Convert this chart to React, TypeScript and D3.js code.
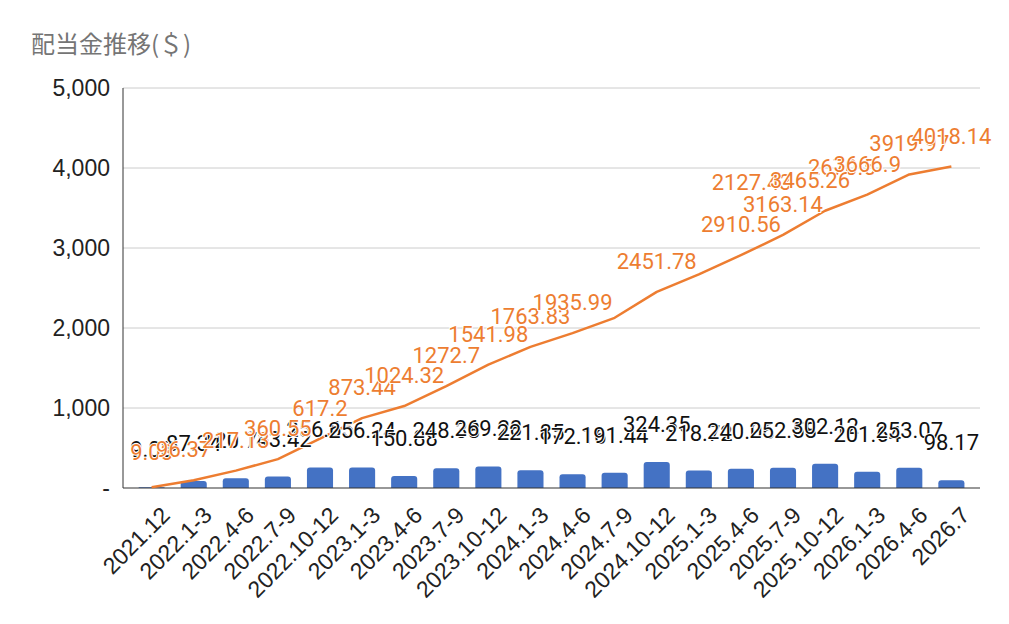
import { useEffect, useRef } from 'react';
import * as d3 from 'd3';

// quarterly dividends and running total (USD)
const categories = [
    '2021.12', '2022.1-3', '2022.4-6', '2022.7-9', '2022.10-12',
    '2023.1-3', '2023.4-6', '2023.7-9', '2023.10-12',
    '2024.1-3', '2024.4-6', '2024.7-9', '2024.10-12',
    '2025.1-3', '2025.4-6', '2025.7-9', '2025.10-12',
    '2026.1-3', '2026.4-6', '2026.7',
];
const dividends = [
    9.03, 87.34, 120.76, 143.42, 256.65,
    256.24, 150.88, 248.38, 269.28,
    221.85, 172.16, 191.44, 324.35,
    218.72, 240.06, 252.58, 302.12,
    201.64, 253.07, 98.17,
];
const cumulative = [
    9.03, 96.37, 217.13, 360.55, 617.2,
    873.44, 1024.32, 1272.7, 1541.98,
    1763.83, 1935.99, 2127.43, 2451.78,
    2670.5, 2910.56, 3163.14, 3465.26,
    3666.9, 3919.97, 4018.14,
];
const yTicks = [0, 1000, 2000, 3000, 4000, 5000];

const BAR = '#4472c4';
const LINE = '#ed7d31';

export default function App() {
    const svgRef = useRef<SVGSVGElement>(null);

    useEffect(() => {
        if (!svgRef.current) return;
        const svg = d3.select(svgRef.current);
        svg.selectAll('*').remove();

        const width = 1009;
        const height = 624;
        const margin = { top: 88, right: 29, bottom: 136, left: 123 };

        const x = d3.scaleBand<string>()
            .domain(categories)
            .range([margin.left, width - margin.right])
            .paddingInner(0.38)
            .paddingOuter(0.37);
        const y = d3.scaleLinear()
            .domain([0, 5000])
            .range([height - margin.bottom, margin.top]);
        const cx = (i: number) => (x(categories[i]) || 0) + x.bandwidth() / 2;

        svg.append('rect').attr('width', width).attr('height', height).attr('fill', '#fff');

        // title
        svg.append('text')
            .attr('x', 31)
            .attr('y', 53)
            .attr('fill', '#757575')
            .attr('font-family', '"Noto Sans CJK JP", "Noto Sans", sans-serif')
            .attr('font-size', '24px')
            .text('配当金推移(＄)');

        // grid
        svg.append('g')
            .selectAll('line')
            .data(yTicks.filter(t => t > 0))
            .enter()
            .append('line')
            .attr('x1', margin.left)
            .attr('x2', width - margin.right)
            .attr('y1', d => y(d))
            .attr('y2', d => y(d))
            .attr('stroke', '#cccccc')
            .attr('stroke-width', 1);

        // y labels
        svg.append('g')
            .selectAll('text')
            .data(yTicks)
            .enter()
            .append('text')
            .attr('x', 110)
            .attr('y', d => y(d))
            .attr('text-anchor', 'end')
            .attr('dominant-baseline', 'central')
            .attr('font-family', 'Arial, "Liberation Sans", sans-serif')
            .attr('font-size', '23px')
            .attr('fill', '#222')
            .text(d => (d === 0 ? '-' : d3.format(',')(d)));

        // bars
        svg.append('g')
            .selectAll('path')
            .data(dividends)
            .enter()
            .append('path')
            .attr('fill', BAR)
            .attr('d', (d, i) => {
                const x0 = x(categories[i]) || 0;
                const w = x.bandwidth();
                const y0 = y(0);
                const y1 = y(d);
                const r = Math.min(3, (y0 - y1) / 2);
                return `M${x0},${y0}V${y1 + r}Q${x0},${y1} ${x0 + r},${y1}H${x0 + w - r}Q${x0 + w},${y1} ${x0 + w},${y1 + r}V${y0}Z`;
            });

        // axes lines
        svg.append('line')
            .attr('x1', margin.left).attr('x2', margin.left)
            .attr('y1', y(5000)).attr('y2', y(0))
            .attr('stroke', '#333').attr('stroke-width', 1);
        svg.append('line')
            .attr('x1', margin.left).attr('x2', width - margin.right)
            .attr('y1', y(0)).attr('y2', y(0))
            .attr('stroke', '#333').attr('stroke-width', 1.2);

        // cumulative line
        const line = d3.line<number>()
            .x((_, i) => cx(i))
            .y(d => y(d));
        svg.append('path')
            .datum(cumulative)
            .attr('fill', 'none')
            .attr('stroke', LINE)
            .attr('stroke-width', 2.5)
            .attr('stroke-linejoin', 'round')
            .attr('d', line);

        const labelFont = 'Roboto, "Noto Sans", sans-serif';

        // bar labels
        svg.append('g')
            .selectAll('text')
            .data(dividends)
            .enter()
            .append('text')
            .attr('x', (_, i) => cx(i))
            .attr('y', d => y(d) - 30)
            .attr('text-anchor', 'middle')
            .attr('font-family', labelFont)
            .attr('font-size', '22px')
            .attr('fill', '#111')
            .attr('stroke', '#fff')
            .attr('stroke-width', 2)
            .attr('paint-order', 'stroke')
            .text(d => String(d));

        // line labels, a few pushed aside like the original layout
        const nudge: Record<number, [number, number]> = {
            0: [0, -4],
            1: [-10, 0],
            11: [137, -105],
            13: [143, -76],
            16: [-15, 0],
        };
        svg.append('g')
            .selectAll('text')
            .data(cumulative)
            .enter()
            .append('text')
            .attr('x', (_, i) => cx(i) + (nudge[i]?.[0] || 0))
            .attr('y', (d, i) => y(d) - 23 + (nudge[i]?.[1] || 0))
            .attr('text-anchor', 'middle')
            .attr('font-family', labelFont)
            .attr('font-size', '22px')
            .attr('fill', LINE)
            .attr('stroke', '#fff')
            .attr('stroke-width', 2)
            .attr('paint-order', 'stroke')
            .text(d => String(d));

        // x labels
        svg.append('g')
            .selectAll('text')
            .data(categories)
            .enter()
            .append('text')
            .attr('transform', (_, i) => `translate(${cx(i) + 14},${y(0) + 23}) rotate(-45)`)
            .attr('text-anchor', 'end')
            .attr('dominant-baseline', 'central')
            .attr('font-family', 'Arial, "Liberation Sans", sans-serif')
            .attr('font-size', '23px')
            .attr('fill', '#222')
            .text(d => d);
    }, []);

    return (
        <svg
            ref={svgRef}
            width={1009}
            height={624}
            style={{ position: 'absolute', left: 0, top: 0 }}
        />
    );
}
